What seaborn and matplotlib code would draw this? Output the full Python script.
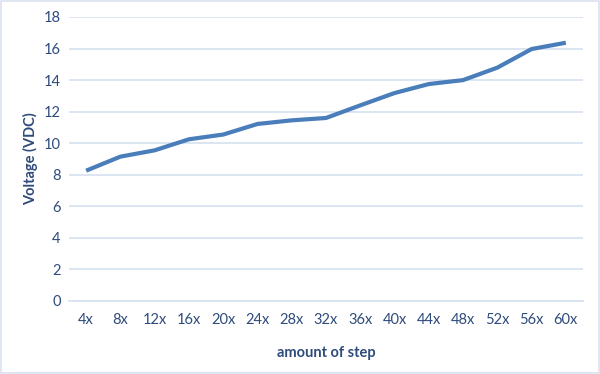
import matplotlib
matplotlib.use("Agg")
import matplotlib.pyplot as plt
import seaborn as sns
import pandas as pd
from matplotlib.patches import Rectangle

categories = ["4x", "8x", "12x", "16x", "20x", "24x", "28x", "32x",
              "36x", "40x", "44x", "48x", "52x", "56x", "60x"]
voltage = [8.26, 9.15, 9.55, 10.25, 10.55, 11.22, 11.45, 11.6,
           12.4, 13.18, 13.75, 14.0, 14.79, 15.97, 16.37]
y_ticks = [0, 2, 4, 6, 8, 10, 12, 14, 16, 18]

df = pd.DataFrame({"step": categories, "voltage": voltage})

sns.set_theme(style="white")
plt.rcParams["font.family"] = ["Lato", "DejaVu Sans"]

text_color = "#2F4B7C"
grid_color = "#D6E0F0"
line_color = "#4A7EBB"

fig = plt.figure(figsize=(6.0, 3.74), dpi=100)
ax = fig.add_axes([69/600, (374-301)/374, (583-69)/600, (301-17)/374])

sns.lineplot(data=df, x="step", y="voltage", ax=ax, color=line_color,
             linewidth=3.0, sort=False, solid_capstyle="butt")

ax.set_ylim(0, 18)
ax.set_xlim(-0.5, len(categories) - 0.5)
ax.set_yticks(y_ticks)
ax.set_yticklabels([str(t) for t in y_ticks])
ax.yaxis.grid(True, color=grid_color, linewidth=1.2)
ax.set_axisbelow(True)

for s in ["top", "right", "left"]:
    ax.spines[s].set_visible(False)
ax.spines["bottom"].set_color(grid_color)
ax.spines["bottom"].set_linewidth(1.2)

ax.tick_params(axis="y", length=0, pad=6, labelsize=10.5, labelcolor=text_color)
ax.tick_params(axis="x", which="major", length=0, pad=9, labelsize=10.5,
               labelcolor=text_color)
ax.set_xticks([i - 0.5 for i in range(len(categories) + 1)], minor=True)
ax.tick_params(axis="x", which="minor", length=6, width=1.2, color=grid_color,
               direction="out")

ax.set_xlabel("amount of step", fontsize=10.5, fontweight="bold",
              color=text_color, labelpad=13)
ax.set_ylabel("Voltage (VDC)", fontsize=10.5, fontweight="bold",
              color=text_color, labelpad=4)

fig.patches.append(Rectangle((0.002, 0.003), 0.996, 0.994, transform=fig.transFigure,
                             fill=False, edgecolor="#D9E2F0", linewidth=1.2))

fig.savefig("out.png", dpi=100)
